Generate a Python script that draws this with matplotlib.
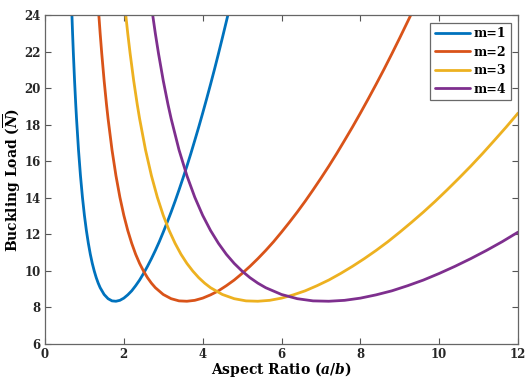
import matplotlib
matplotlib.use("Agg")
import matplotlib.pyplot as plt

# Buckling load readings (same load profile for each mode, shifted along a/b)
load_shape = [24.18, 22.98, 21.89, 20.41, 19.11, 18.33, 16.62, 15.21, 14.03, 13.04,
              12.21, 11.51, 10.91, 10.41, 9.99, 9.63, 9.33, 9.08,
              8.71, 8.48, 8.36, 8.34, 8.39,
              8.51, 8.69, 8.91, 9.19, 9.50, 9.86, 10.25, 10.67, 11.12, 11.60,
              12.12, 12.66, 13.22, 13.81, 14.43, 15.07, 15.73, 16.42, 17.14, 17.87,
              18.63, 19.41, 20.21, 21.03, 21.88, 22.75, 23.64, 24.54]

x_m1 = [0.68, 0.70, 0.72, 0.75, 0.78, 0.80, 0.85, 0.90, 0.95, 1.00,
        1.05, 1.10, 1.15, 1.20, 1.25, 1.30, 1.35, 1.40,
        1.5, 1.6, 1.7, 1.8, 1.9,
        2.0, 2.1, 2.2, 2.3, 2.4, 2.5, 2.6, 2.7, 2.8, 2.9,
        3.0, 3.1, 3.2, 3.3, 3.4, 3.5, 3.6, 3.7, 3.8, 3.9,
        4.0, 4.1, 4.2, 4.3, 4.4, 4.5, 4.6, 4.7]
y_m1 = load_shape

x_m2 = [1.36, 1.40, 1.44, 1.50, 1.56, 1.60, 1.70, 1.80, 1.90, 2.00,
        2.10, 2.20, 2.30, 2.40, 2.50, 2.60, 2.70, 2.80,
        3.0, 3.2, 3.4, 3.6, 3.8,
        4.0, 4.2, 4.4, 4.6, 4.8, 5.0, 5.2, 5.4, 5.6, 5.8,
        6.0, 6.2, 6.4, 6.6, 6.8, 7.0, 7.2, 7.4, 7.6, 7.8,
        8.0, 8.2, 8.4, 8.6, 8.8, 9.0, 9.2, 9.4]
y_m2 = load_shape

x_m3 = [2.04, 2.10, 2.16, 2.25, 2.34, 2.40, 2.55, 2.70, 2.85, 3.00,
        3.15, 3.30, 3.45, 3.60, 3.75, 3.90, 4.05, 4.20,
        4.5, 4.8, 5.1, 5.4, 5.7,
        6.0, 6.3, 6.6, 6.9, 7.2, 7.5, 7.8, 8.1, 8.4, 8.7,
        9.0, 9.3, 9.6, 9.9, 10.2, 10.5, 10.8, 11.1, 11.4, 11.7,
        12.0]
y_m3 = load_shape[:44]

x_m4 = [2.72, 2.80, 2.88, 3.00, 3.12, 3.20, 3.40, 3.60, 3.80, 4.00,
        4.20, 4.40, 4.60, 4.80, 5.00, 5.20, 5.40, 5.60,
        6.0, 6.4, 6.8, 7.2, 7.6,
        8.0, 8.4, 8.8, 9.2, 9.6, 10.0, 10.4, 10.8, 11.2, 11.6,
        12.0]
y_m4 = load_shape[:34]

labels = ["m=1", "m=2", "m=3", "m=4"]
colors = ["#0072BD", "#D95319", "#EDB120", "#7E2F8E"]

xticks = [0, 2, 4, 6, 8, 10, 12]
yticks = [6, 8, 10, 12, 14, 16, 18, 20, 22, 24]

plt.rcParams['font.family'] = ['DejaVu Serif']
plt.rcParams['font.weight'] = 'bold'
plt.rcParams['mathtext.fontset'] = 'custom'
plt.rcParams['mathtext.it'] = 'DejaVu Serif:italic:bold'
plt.rcParams['mathtext.rm'] = 'DejaVu Serif:bold'
plt.rcParams['mathtext.bf'] = 'DejaVu Serif:bold'

fig = plt.figure(figsize=(5.25, 3.79), dpi=100)
ax = fig.add_axes([0.0857, 0.0923, 0.9010, 0.8681])

for xs, ys, lab, c in zip([x_m1, x_m2, x_m3, x_m4], [y_m1, y_m2, y_m3, y_m4], labels, colors):
    ax.plot(xs, ys, color=c, lw=2.0, label=lab, solid_capstyle='round',
            solid_joinstyle='round')

ax.set_xlim(0, 12)
ax.set_ylim(6, 24)
ax.set_xticks(xticks)
ax.set_yticks(yticks)
ax.tick_params(direction='in', top=True, right=True, length=4, width=0.8,
               labelsize=8.5, color='#555555', pad=3)
for lab in ax.get_xticklabels() + ax.get_yticklabels():
    lab.set_fontweight('bold')
    lab.set_color('#262626')
for s in ax.spines.values():
    s.set_color('#666666')
    s.set_linewidth(0.9)

ax.set_xlabel(r"Aspect Ratio ($a/b$)", fontsize=10, fontweight='bold', labelpad=-1)
ax.set_ylabel(r"Buckling Load ($\overline{N}$)", fontsize=10, fontweight='bold', labelpad=1)

leg = ax.legend(loc='upper right', fontsize=9, frameon=True, fancybox=False,
                handlelength=2.8, borderpad=0.35, labelspacing=0.45, handletextpad=0.3,
                borderaxespad=0.6)
leg.get_frame().set_edgecolor('#444444')
leg.get_frame().set_linewidth(0.9)
for t in leg.get_texts():
    t.set_fontweight('bold')

fig.savefig("out.png", dpi=100)
